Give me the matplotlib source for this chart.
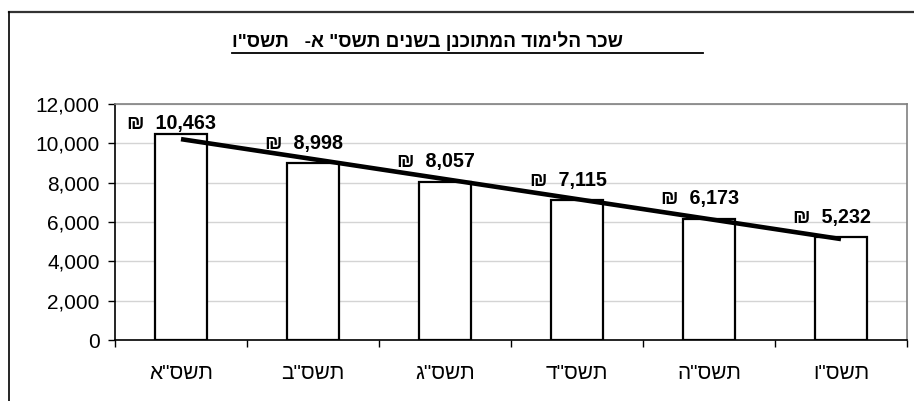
import numpy as np
import matplotlib
matplotlib.use("Agg")
import matplotlib.pyplot as plt
from matplotlib.lines import Line2D

# Data (Hebrew strings given in logical order; reversed for display)
categories = ['תשס"א', 'תשס"ב', 'תשס"ג', 'תשס"ד', 'תשס"ה', 'תשס"ו']
values = [10463, 8998, 8057, 7115, 6173, 5232]
title = 'שכר הלימוד המתוכנן בשנים תשס" א-   תשס"ו'
yticks = [0, 2000, 4000, 6000, 8000, 10000, 12000]

def vis(s):
    return s[::-1]

FONT = ['Liberation Sans', 'DejaVu Sans']
plt.rcParams['font.family'] = FONT

W, H = 914, 401
fig = plt.figure(figsize=(W / 100, H / 100), dpi=100)

# outer frame (top and left visible)
fig.add_artist(Line2D([9 / W, 1.0], [1 - 12 / H, 1 - 12 / H], transform=fig.transFigure,
                      color='#333333', lw=1.6))
fig.add_artist(Line2D([9 / W, 9 / W], [0, 1 - 12 / H], transform=fig.transFigure,
                      color='#000000', lw=1.2))

ax = fig.add_axes([115 / W, (H - 340) / H, (907 - 115) / W, 236 / H])
x = np.arange(len(values))
ax.bar(x, values, width=0.4, color='white', edgecolor='black', linewidth=1.6, zorder=3)

# linear trend line
coef = np.polyfit(x, values, 1)
ax.plot(x, np.polyval(coef, x), color='black', lw=3.3, zorder=4, solid_capstyle='butt')

for xi, v in zip(x, values):
    yb = min(v + 737, 10730)
    ax.annotate(f'₪  {v:,}', (xi, yb), xytext=(-6.5, 0), textcoords='offset points',
                ha='center', va='baseline', fontsize=14.2, fontweight='bold', zorder=5)

ax.set_xlim(-0.5, len(values) - 0.5)
ax.set_ylim(0, 12000)
ax.set_yticks(yticks)
ax.set_yticklabels([f'{t:,}' for t in yticks], fontsize=15)
ax.set_xticks(np.arange(len(values) + 1) - 0.5)
ax.set_xticklabels([])
ax.set_xticks(x, minor=True)
ax.set_xticklabels([vis(c) for c in categories], minor=True, fontsize=15)
ax.tick_params(axis='x', which='major', length=5, width=1, color='black', direction='out')
ax.tick_params(axis='x', which='minor', length=0, pad=17)
ax.tick_params(axis='y', length=5, width=1, direction='out', pad=6)
ax.grid(axis='y', color='#d4d4d4', lw=1, zorder=0)
ax.set_axisbelow(True)
for s in ['top', 'right']:
    ax.spines[s].set_color('#808080')
    ax.spines[s].set_linewidth(1.2)
for s in ['left', 'bottom']:
    ax.spines[s].set_color('black')
    ax.spines[s].set_linewidth(1.2)

# title with underline
fig.text(232 / W, 1 - 47 / H, vis(title), ha='left', va='baseline', fontsize=13.7,
         fontweight='bold')
fig.add_artist(Line2D([232 / W, 703 / W], [1 - 53 / H, 1 - 53 / H], transform=fig.transFigure,
                      color='black', lw=1.3))

fig.savefig('out.png', dpi=100)
